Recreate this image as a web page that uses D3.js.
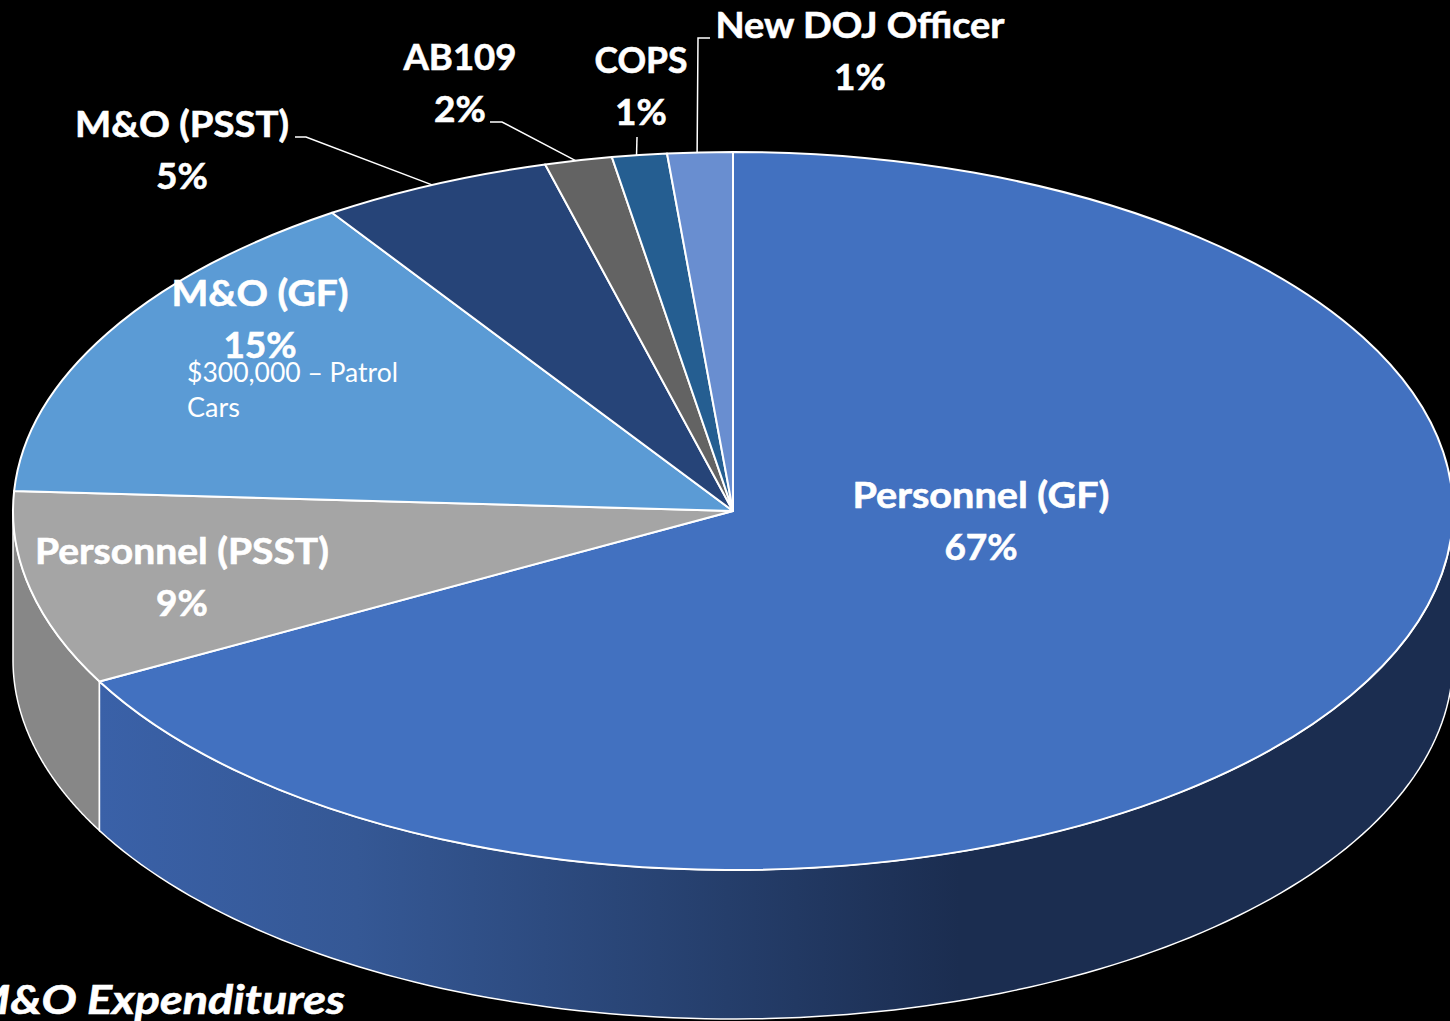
<!DOCTYPE html>
<html>
<head>
<meta charset="utf-8">
<script src="https://cdn.jsdelivr.net/npm/d3@7"></script>
<style>
  html, body { margin: 0; padding: 0; background: #000; overflow: hidden; }
  svg { display: block; }
  text { font-family: Lato, sans-serif; fill: #fff; }
  .heavy { stroke: #fff; stroke-width: 0.6px; }
</style>
</head>
<body>
<div id="chart"></div>
<script>
// Values
let categories = ["Personnel (GF)", "Personnel (PSST)", "M&O (GF)", "M&O (PSST)", "AB109", "COPS", "New DOJ Officer"];
let shares = [67.12, 8.77, 14.71, 5.2, 1.51, 1.23, 1.46];
let percentLabels = ["67%", "9%", "15%", "5%", "2%", "1%", "1%"];
let sliceColors = ["#4271c0", "#a5a5a5", "#5b9bd5", "#264478", "#636363", "#255e91", "#698ed0"];

let svgWidth = 1450;
let svgHeight = 1021;

// Pie geometry (ellipse because of the 3D tilt)
let cx = 733;
let cy = 511;
let rx = 720;
let ry = 359;
let depth = 149;

// Where each label sits, same order as categories
let labelPos = [[981, 508], [182, 564], [260, 306], [182, 137], [460, 70], [641, 73], [860, 38]];
// Lato is narrower than the original font, so the names are fitted to these widths
let labelWidths = [257, 294, 177, 214, 113, 93, 289];
// Leader lines: start and elbow of the line, the end comes from the slice
let leaders = { 3: [[295, 137], [306, 137]], 4: [[490, 122], [502, 122]], 5: [[637, 137]], 6: [[710, 38], [698, 38]] };

let svg = d3.select("#chart")
  .append("svg")
  .attr("width", svgWidth)
  .attr("height", svgHeight);

let defs = svg.append("defs");
let sideGradient = defs.append("linearGradient")
  .attr("id", "sideBlue")
  .attr("gradientUnits", "userSpaceOnUse")
  .attr("x1", 99).attr("x2", 960)
  .attr("y1", 0).attr("y2", 0);
sideGradient.append("stop").attr("offset", 0).attr("stop-color", "#3a61a8");
sideGradient.append("stop").attr("offset", 0.3).attr("stop-color", "#355895");
sideGradient.append("stop").attr("offset", 0.65).attr("stop-color", "#284373");
sideGradient.append("stop").attr("offset", 1).attr("stop-color", "#1b2d50");

let pie = d3.pie().sort(null).value(d => d);
let slices = pie(shares);

// angle measured clockwise from the top, same as d3.pie
function rimPoint(angle, drop) {
  return [cx + rx * Math.sin(angle), cy - ry * Math.cos(angle) + drop];
}

let line = d3.line();

// Side wall of a slice, only the part facing the viewer (angle 90 to 270 deg)
function wallPath(a0, a1) {
  let from = Math.max(a0, Math.PI / 2);
  let to = Math.min(a1, Math.PI * 1.5);
  let steps = d3.range(0, 121).map(i => d3.scaleLinear().domain([0, 120]).range([from, to])(i));
  let top = steps.map(a => rimPoint(a, 0));
  let bottom = steps.slice().reverse().map(a => rimPoint(a, depth));
  return line(top.concat(bottom)) + "Z";
}

let walls = svg.append("g");
walls.append("path")
  .attr("d", wallPath(slices[1].startAngle, slices[1].endAngle))
  .attr("fill", "#878787")
  .attr("stroke", "#fff")
  .attr("stroke-width", 1.5);
walls.append("path")
  .attr("d", wallPath(slices[0].startAngle, slices[0].endAngle))
  .attr("fill", "url(#sideBlue)")
  .attr("stroke", "#fff")
  .attr("stroke-width", 1.5);

// Top face: unit arc squashed by a transform
let arc = d3.arc().innerRadius(0).outerRadius(rx);
svg.append("g")
  .attr("transform", `translate(${cx}, ${cy}) scale(1, ${ry / rx})`)
  .selectAll("path")
  .data(slices)
  .enter()
  .append("path")
  .attr("d", arc)
  .attr("fill", (d, i) => sliceColors[i])
  .attr("stroke", "#fff")
  .attr("stroke-width", 2)
  .attr("stroke-linejoin", "round")
  .attr("vector-effect", "non-scaling-stroke");

// Leader lines
Object.keys(leaders).forEach(k => {
  let d = slices[k];
  // the originals land a touch before the middle of the slice
  let pts = leaders[k].concat([rimPoint((d.startAngle + d.endAngle) / 2 - 0.004, 0)]);
  svg.append("path")
    .attr("d", line(pts))
    .attr("fill", "none")
    .attr("stroke", "#fff")
    .attr("stroke-width", 1.5);
});

// Labels
let labels = svg.append("g");
categories.forEach((c, i) => {
  labels.append("text")
    .attr("class", "heavy")
    .attr("x", labelPos[i][0])
    .attr("y", labelPos[i][1])
    .attr("text-anchor", "middle")
    .attr("font-size", 37)
    .attr("font-weight", 700)
    .attr("textLength", labelWidths[i])
    .attr("lengthAdjust", "spacingAndGlyphs")
    .text(c);
  labels.append("text")
    .attr("class", "heavy")
    .attr("x", labelPos[i][0])
    .attr("y", labelPos[i][1] + 52)
    .attr("text-anchor", "middle")
    .attr("font-size", 37)
    .attr("font-weight", 700)
    .text(percentLabels[i]);
});

// Note in the M&O (GF) slice
labels.append("text").attr("x", 187).attr("y", 382).attr("font-size", 27)
  .attr("textLength", 211).attr("lengthAdjust", "spacingAndGlyphs").text("$300,000 – Patrol");
labels.append("text").attr("x", 187).attr("y", 417).attr("font-size", 27).text("Cars");

// Caption cut off by the left edge
labels.append("text")
  .attr("class", "heavy")
  .attr("x", -31)
  .attr("y", 1014)
  .attr("font-size", 40)
  .attr("font-weight", 700)
  .attr("font-style", "italic")
  .attr("textLength", 376)
  .attr("lengthAdjust", "spacingAndGlyphs")
  .text("M&O Expenditures");
</script>
</body>
</html>
